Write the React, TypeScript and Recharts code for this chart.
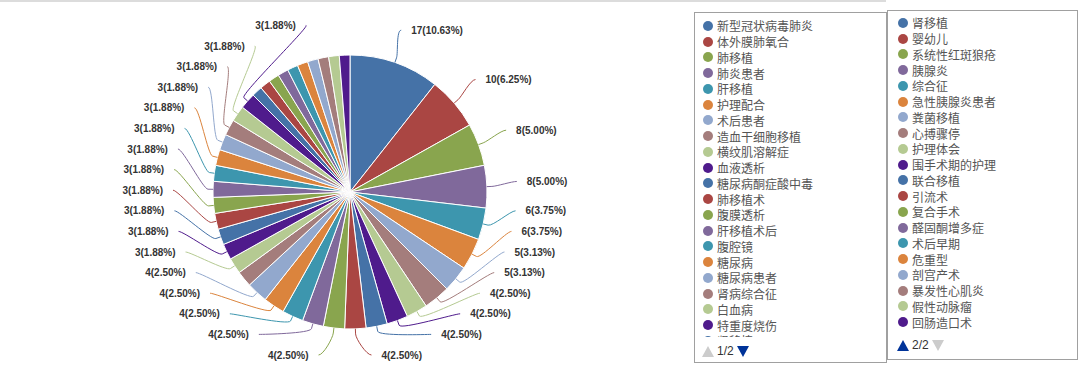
import React from "react"
import { PieChart, Pie, Cell } from "recharts"

const categories = [
  "新型冠状病毒肺炎", "体外膜肺氧合", "肺移植", "肺炎患者", "肝移植",
  "护理配合", "术后患者", "造血干细胞移植", "横纹肌溶解症", "血液透析",
  "糖尿病酮症酸中毒", "肺移植术", "腹膜透析", "肝移植术后", "腹腔镜",
  "糖尿病", "糖尿病患者", "肾病综合征", "白血病", "特重度烧伤",
  "肾移植", "婴幼儿", "系统性红斑狼疮", "胰腺炎", "综合征",
  "急性胰腺炎患者", "粪菌移植", "心搏骤停", "护理体会", "围手术期的护理",
  "联合移植", "引流术", "复合手术", "醛固酮增多症", "术后早期",
  "危重型", "剖宫产术", "暴发性心肌炎", "假性动脉瘤", "回肠造口术",
]

const counts = [
  17, 10, 8, 8, 6, 6, 5, 5, 4, 4,
  4, 4, 4, 4, 4, 4, 4, 3, 3, 3,
  3, 3, 3, 3, 3, 3, 3, 3, 3, 3,
  2, 2, 2, 2, 2, 2, 2, 2, 2, 2,
]

const palette = [
  "#4572A7", "#AA4643", "#89A54E", "#80699B", "#3D96AE",
  "#DB843D", "#92A8CD", "#A47D7C", "#B5CA92", "#4F1B8C",
]

const pieData = categories.map((name, i) => ({ name, value: counts[i] }))
const total = counts.reduce((a, b) => a + b, 0)

// pie geometry
const CX = 345
const CY = 187
const R = 137

// label layout (highcharts-like distribution)
const LABEL_R = 167
const GAP = 20.6
const TOP = 20
const BOTTOM = 355
const LX = 172
const LY = 168
const LCY = 189

type LabelPos = { y: number; x: number; right: boolean; mid: number }

function layoutLabels(): (LabelPos | null)[] {
  const out: (LabelPos | null)[] = counts.map(() => null)
  let acc = 0
  const items = counts.map((v, i) => {
    const mid = ((acc + v / 2) / total) * 360
    acc += v
    const rad = (mid * Math.PI) / 180
    return { i, v, mid, right: mid < 180, y0: CY + 1 - LABEL_R * Math.cos(rad) }
  })
  for (const right of [true, false]) {
    let side = items.filter((it) => it.right === right).sort((a, b) => a.y0 - b.y0)
    const cap = Math.floor((BOTTOM - TOP) / GAP) + 1
    if (side.length > cap) {
      side = [...side].sort((a, b) => b.v - a.v).slice(0, cap).sort((a, b) => a.y0 - b.y0)
    }
    const ys = side.map((s) => s.y0)
    for (let k = 0; k < ys.length; k++) ys[k] = Math.max(ys[k], k ? ys[k - 1] + GAP : TOP)
    for (let k = ys.length - 1; k >= 0; k--) ys[k] = Math.min(ys[k], k < ys.length - 1 ? ys[k + 1] - GAP : BOTTOM)
    side.forEach((s, k) => {
      const y = ys[k]
      const t = (y - LCY) / LY
      const dx = LX * Math.sqrt(Math.max(0, 1 - t * t))
      out[s.i] = { y, x: CX + (right ? dx : -dx), right, mid: s.mid }
    })
  }
  return out
}

const labelPositions = layoutLabels()

function renderLabel(props: any) {
  const { index, cx, cy, outerRadius } = props
  const pos = labelPositions[index]
  if (!pos) return <g />
  const color = palette[index % palette.length]
  const rad = (pos.mid * Math.PI) / 180
  const pt = (r: number) => [cx + r * Math.sin(rad), cy - r * Math.cos(rad)]
  const [x3, y3] = pt(outerRadius)
  const [x2, y2] = pt(outerRadius + 5)
  const [c2x, c2y] = pt(outerRadius + 10)
  const s = pos.right ? 1 : -1
  const d = `M${x3},${y3} L${x2},${y2} C${c2x},${c2y} ${pos.x - 5 * s},${pos.y} ${pos.x},${pos.y}`
  const v = counts[index]
  const pct = ((v / total) * 100).toFixed(2)
  return (
    <g>
      <path d={d} stroke={color} strokeWidth={1} fill="none" />
      <text
        x={pos.x + 10 * s}
        y={pos.y}
        textAnchor={pos.right ? "start" : "end"}
        dominantBaseline="central"
        fontSize={10}
        fontWeight="bold"
        fontFamily="'Liberation Sans', Arial, sans-serif"
        fill="#333"
      >
        {`${v}(${pct}%)`}
      </text>
    </g>
  )
}

function Tri({ up, color }: { up: boolean; color: string }) {
  return (
    <svg width={12} height={11} style={{ display: "block" }}>
      <path d={up ? "M0,11 L6,0 L12,11 Z" : "M0,0 L12,0 L6,11 Z"} fill={color} />
    </svg>
  )
}

function LegendBox(props: {
  left: number
  top: number
  width: number
  height: number
  from: number
  to: number
  listTop: number
  listHeight: number
  markerX: number
  navTop: number
  navLeft: number
  page: number
}) {
  const rows = []
  for (let i = props.from; i < props.to; i++) {
    rows.push(
      <div key={i} style={{ height: 15.75, display: "flex", alignItems: "center", position: "relative" }}>
        <div
          style={{
            position: "absolute",
            left: props.markerX - 5,
            width: 10,
            height: 10,
            borderRadius: 5,
            background: palette[i % palette.length],
          }}
        />
        <span style={{ position: "absolute", left: props.markerX + 9, whiteSpace: "nowrap", lineHeight: "15px" }}>
          {categories[i]}
        </span>
      </div>
    )
  }
  const first = props.page === 1
  return (
    <div
      style={{
        position: "absolute",
        left: props.left,
        top: props.top,
        width: props.width,
        height: props.height,
        boxSizing: "border-box",
        border: "1px solid #a0a0a0",
        fontFamily: "'Noto Sans CJK SC', sans-serif",
        fontSize: 12,
        color: "#555",
      }}
    >
      <div style={{ position: "absolute", left: 0, right: 0, top: props.listTop, height: props.listHeight, overflow: "hidden" }}>
        {rows}
      </div>
      <div style={{ position: "absolute", left: props.navLeft, top: props.navTop, display: "flex", alignItems: "center", gap: 3 }}>
        <Tri up color={first ? "#cccccc" : "#003399"} />
        <span style={{ fontFamily: "'Liberation Sans', Arial, sans-serif", fontSize: 12, color: "#333", lineHeight: "12px" }}>
          {first ? "1/2" : "2/2"}
        </span>
        <Tri up={false} color={first ? "#003399" : "#cccccc"} />
      </div>
    </div>
  )
}

export default function App() {
  return (
    <div style={{ position: "absolute", left: 0, top: 0, width: 1080, height: 366, background: "#fff", overflow: "hidden" }}>
      <div style={{ position: "absolute", left: 0, top: 0, width: 886, height: 2, background: "#dcdcdc" }} />
      <div style={{ position: "absolute", left: 0, top: 0 }}>
        <PieChart width={690} height={366}>
          <Pie
            data={pieData}
            dataKey="value"
            nameKey="name"
            cx={CX}
            cy={CY}
            outerRadius={R}
            startAngle={90}
            endAngle={-270}
            stroke="#fff"
            strokeWidth={1}
            labelLine={false}
            label={renderLabel}
            isAnimationActive={false}
          >
            {pieData.map((d, i) => (
              <Cell key={d.name} fill={palette[i % palette.length]} />
            ))}
          </Pie>
        </PieChart>
      </div>
      <LegendBox
        left={694} top={12} width={193} height={351}
        from={0} to={21}
        listTop={5} listHeight={319}
        markerX={13}
        navLeft={7} navTop={332}
        page={1}
      />
      <LegendBox
        left={887} top={10} width={191} height={350}
        from={20} to={40}
        listTop={4} listHeight={320}
        markerX={15}
        navLeft={9} navTop={328}
        page={2}
      />
    </div>
  )
}
